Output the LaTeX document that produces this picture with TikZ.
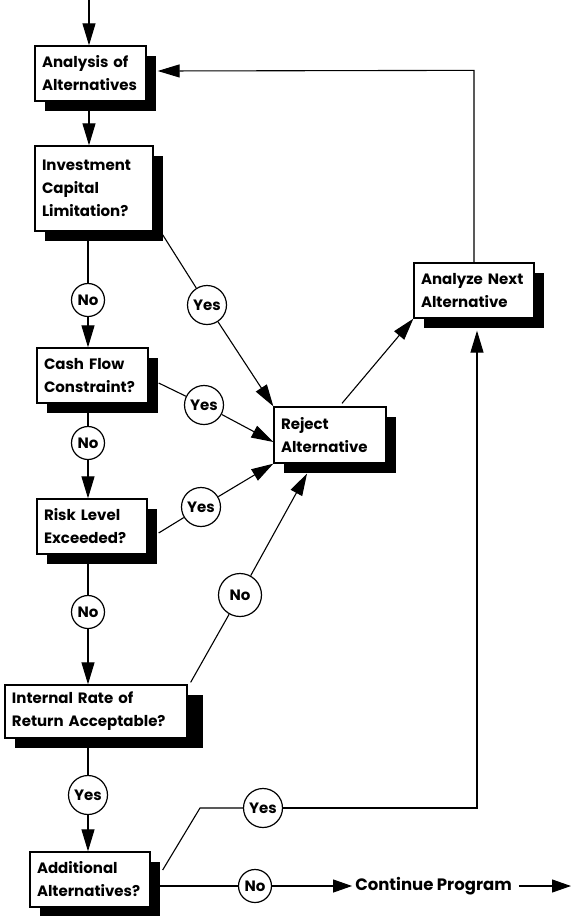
\documentclass[tikz,border=0pt]{standalone}
\usepackage{fontspec}
\setmainfont{Poppins}
\usetikzlibrary{shadows,arrows.meta,calc}
\begin{document}
\begin{tikzpicture}[x=1pt,y=-1pt,
  font=\fontsize{15}{23}\selectfont\bfseries,
  box/.style={draw, fill=white, line width=1.3pt, align=left, inner xsep=7pt, inner ysep=0pt,
     drop shadow={shadow xshift=10pt, shadow yshift=-10pt, fill=black, opacity=1}},
  ans/.style={draw, circle, fill=white, line width=1.2pt, inner sep=0.5pt},
  yesc/.style={ans, minimum size=39pt},
  noc/.style={ans, minimum size=33pt},
  conn/.style={line width=1.1pt},
  arr/.style={conn, -{Triangle[length=22pt,width=13pt]}},
  sarr/.style={conn, -{Triangle[length=19pt,width=13pt]}}
]
\useasboundingbox (0,0) rectangle (571,916);

% boxes
\node[box, text width=97pt, minimum height=55pt] (ana) at (90.5,73.5) {Analysis of\\Alternatives};
\node[box, text width=104pt, minimum height=85pt] (inv) at (94,188.5) {Investment\\Capital\\Limitation?};
\node[box, text width=97pt, minimum height=55pt] (cash) at (92.5,375.5) {Cash Flow\\Constraint?};
\node[box, text width=96pt, minimum height=55pt] (risk) at (92,526.5) {Risk Level\\Exceeded?};
\node[box, text width=168pt, minimum height=53pt,
  drop shadow={shadow xshift=16pt, shadow yshift=-10pt, fill=black, opacity=1}] (irr) at (96,711.5) {Internal Rate of\\Return Acceptable?};
\node[box, text width=106pt, minimum height=55pt] (add) at (90,879.5) {Additional\\Alternatives?};
\node[box, text width=98pt, minimum height=56pt] (rej) at (330,435) {Reject\\Alternative};
\node[box, text width=106pt, minimum height=55pt] (next) at (474,290.5) {Analyze Next\\Alternative};

% answer circles
\node[noc] (no1) at (88,300) {No};
\node[yesc] (yes1) at (207,305) {Yes};
\node[yesc] (yes2) at (204,405) {Yes};
\node[noc] (no2) at (88,443) {No};
\node[yesc] (yes3) at (201,507) {Yes};
\node[noc] (no3) at (88,612) {No};
\node[ans, minimum size=43pt] (no4) at (240,595) {No};
\node[yesc] (yes4) at (88,795) {Yes};
\node[yesc] (yes5) at (263,808) {Yes};
\node[noc] (no5) at (255,886) {No};
\node[inner sep=0pt, font=\fontsize{16.5}{20}\selectfont\bfseries] (cont) at (433.5,886) {Continue Program};

% free ends
\coordinate (start) at (89,0);
\coordinate (exit) at (571,886);

% connectors
\draw[arr] (start) -- (start |- ana.north);
\draw[arr] (start |- ana.south) -- (start |- inv.north);

\draw[conn] (no1 |- inv.south) -- (no1);
\draw[arr] (no1) -- (no1 |- cash.north);
\draw[conn] (no2 |- cash.south) -- (no2);
\draw[arr] (no2) -- (no2 |- risk.north);
\draw[conn] (no3 |- risk.south) -- (no3);
\draw[arr] (no3) -- (no3 |- irr.north);
\draw[conn] (yes4 |- irr.south) -- (yes4);
\draw[arr] (yes4) -- (yes4 |- add.north);

\draw[conn] ($(inv.south east)+(2,-8)$) -- (yes1);
\draw[arr] (yes1) -- (rej.north west);
\draw[conn] ($(cash.east)+(10,7.5)$) -- (yes2);
\draw[arr] (yes2) -- ($(rej.west)+(0,7)$);
\draw[conn] ($(risk.east)+(11,6.5)$) -- (yes3);
\draw[arr] (yes3) -- (rej.south west);
\draw[conn] ($(irr.north east)+(3,-2)$) -- (no4);
\draw[arr] (no4) -- ($(rej.south)+(-23,10)$);

\draw[arr] ($(rej.north)+(12,-3)$) -- (next.south west);
\draw[arr] (next.north) -- ++(0,-192) -- ($(ana.east)+(11,-2.5)$);

\draw[conn] ($(add.east)+(12,-9.5)$) -- (200,808) -- (yes5);
\draw[arr] (yes5) -- (477,808) -- ($(next.south)+(3,12)$);

\draw[conn] (add.east |- no5) -- (no5);
\draw[sarr] (no5) -- ($(cont.west)+(-3,0)$);
\draw[sarr] ($(cont.east)+(7,0)$) -- (exit);
\end{tikzpicture}
\end{document}
